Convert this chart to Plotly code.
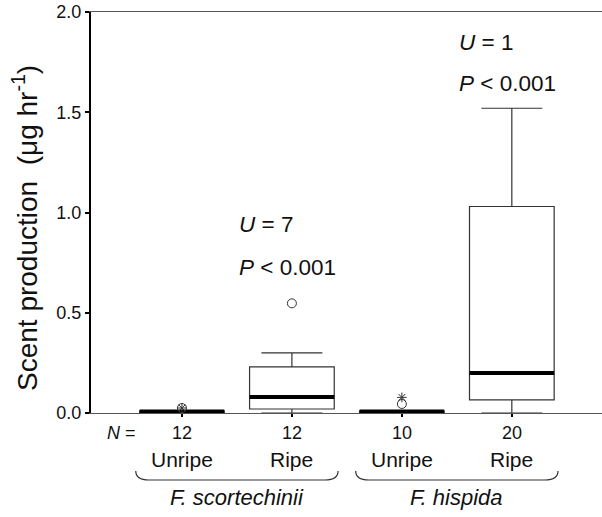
import plotly.graph_objects as go

# ---- data ----
groups = ["Unripe", "Ripe", "Unripe", "Ripe"]
species = ["F. scortechinii", "F. hispida"]
n_values = ["12", "12", "10", "20"]
q1 = [0.002, 0.02, 0.002, 0.065]
median = [0.007, 0.08, 0.007, 0.20]
q3 = [0.010, 0.23, 0.010, 1.03]
lower = [0.0, 0.0, 0.0, 0.0]
upper = [0.010, 0.30, 0.010, 1.52]
circle_x = [1, 2, 3]
circle_y = [0.025, 0.547, 0.045]
star_x = [1, 3]
star_y = [0.025, 0.078]
stats = [("<i>U</i> = 7", "<i>P</i> < 0.001", 2), ("<i>U</i> = 1", "<i>P</i> < 0.001", 4)]
y_ticks = [0, 0.5, 1.0, 1.5, 2.0]
y_ticklabels = ["0.0", "0.5", "1.0", "1.5", "2.0"]

xs = [1, 2, 3, 4]
BW = 0.77
FONT = "Liberation Sans, Arial, sans-serif"
LC = "#333333"
TC = "#111111"

fig = go.Figure()
for i, x in enumerate(xs):
    fig.add_trace(go.Box(
        x=[x], q1=[q1[i]], median=[median[i]], q3=[q3[i]],
        lowerfence=[lower[i]], upperfence=[upper[i]],
        width=BW, whiskerwidth=0.72, boxpoints=False,
        fillcolor="white", line=dict(color=LC, width=1.2),
        showlegend=False, hoverinfo="skip"))
    fig.add_trace(go.Scatter(
        x=[x - BW / 2, x + BW / 2], y=[median[i], median[i]], mode="lines",
        line=dict(color="black", width=4), showlegend=False, hoverinfo="skip"))

fig.add_trace(go.Scatter(x=circle_x, y=circle_y, mode="markers",
                         marker=dict(symbol="circle-open", size=9, color=LC, line=dict(width=1)),
                         showlegend=False))
fig.add_trace(go.Scatter(x=star_x, y=star_y, mode="markers",
                         marker=dict(symbol="asterisk-open", size=8, color=LC, line=dict(width=1, color=LC)),
                         showlegend=False))

ann = []
for u, p, x in stats:
    yu, yp = (0.94, 0.725) if x == 2 else (1.85, 1.645)
    ann.append(dict(x=x - 0.5, y=yu, xref="x", yref="y", text=u, showarrow=False,
                    xanchor="left", yanchor="middle", font=dict(size=22.5, family=FONT, color=TC)))
    ann.append(dict(x=x - 0.5, y=yp, xref="x", yref="y", text=p, showarrow=False,
                    xanchor="left", yanchor="middle", font=dict(size=22.5, family=FONT, color=TC)))

def py(pix):
    return (413 - pix) / 401.0

def px(pix):
    return (pix - 91) / 511.0

ann.append(dict(x=px(138), y=py(433), xref="paper", yref="paper", text="<i>N</i> =", showarrow=False,
                xanchor="right", yanchor="middle", font=dict(size=18, family=FONT, color=TC)))
for i, x in enumerate(xs):
    ann.append(dict(x=x, y=py(433), xref="x", yref="paper", text=n_values[i], showarrow=False,
                    yanchor="middle", font=dict(size=18, family=FONT, color=TC)))
    ann.append(dict(x=x, y=py(460), xref="x", yref="paper", text=groups[i], showarrow=False,
                    yanchor="middle", font=dict(size=21, family=FONT, color=TC)))
for j, sp in enumerate(species):
    ann.append(dict(x=1.5 + 2 * j, y=py(497), xref="x", yref="paper", text="<i>" + sp + "</i>",
                    showarrow=False, yanchor="middle", font=dict(size=22, family=FONT, color=TC)))

ann.append(dict(x=px(25), y=py(228), xref="paper", yref="paper", textangle=-90,
                text="Scent production  (μg hr<sup>-1</sup>)", showarrow=False,
                xanchor="center", yanchor="middle", font=dict(size=28, family=FONT, color=TC)))

shapes = []
yt, yb = py(471), py(480)
for j in range(2):
    a = 1.5 + 2 * j - 0.92
    b = 1.5 + 2 * j + 0.92
    d = 0.12
    path = (f"M {a},{yt} Q {a},{yb} {a+d},{yb} L {b-d},{yb} Q {b},{yb} {b},{yt}")
    shapes.append(dict(type="path", path=path, xref="x", yref="paper",
                       line=dict(color=LC, width=1.2)))

fig.update_layout(
    width=602, height=517,
    margin=dict(l=91, r=0, t=12, b=104),
    plot_bgcolor="white", paper_bgcolor="white",
    annotations=ann, shapes=shapes,
    xaxis=dict(range=[0.173, 4.82], tickvals=xs, showticklabels=False,
               ticks="outside", ticklen=3, tickwidth=2, tickcolor="black",
               showline=True, linecolor="#555", linewidth=1.2, mirror=True,
               showgrid=False, zeroline=False, fixedrange=True),
    yaxis=dict(range=[0, 2], tickvals=y_ticks, ticktext=y_ticklabels,
               ticks="outside", ticklen=4, tickwidth=2, tickcolor="black",
               showline=True, linecolor="black", linewidth=2,
               showgrid=False, zeroline=False,
               tickfont=dict(size=18, family=FONT, color=TC)),
)
fig.write_html("out.html")
